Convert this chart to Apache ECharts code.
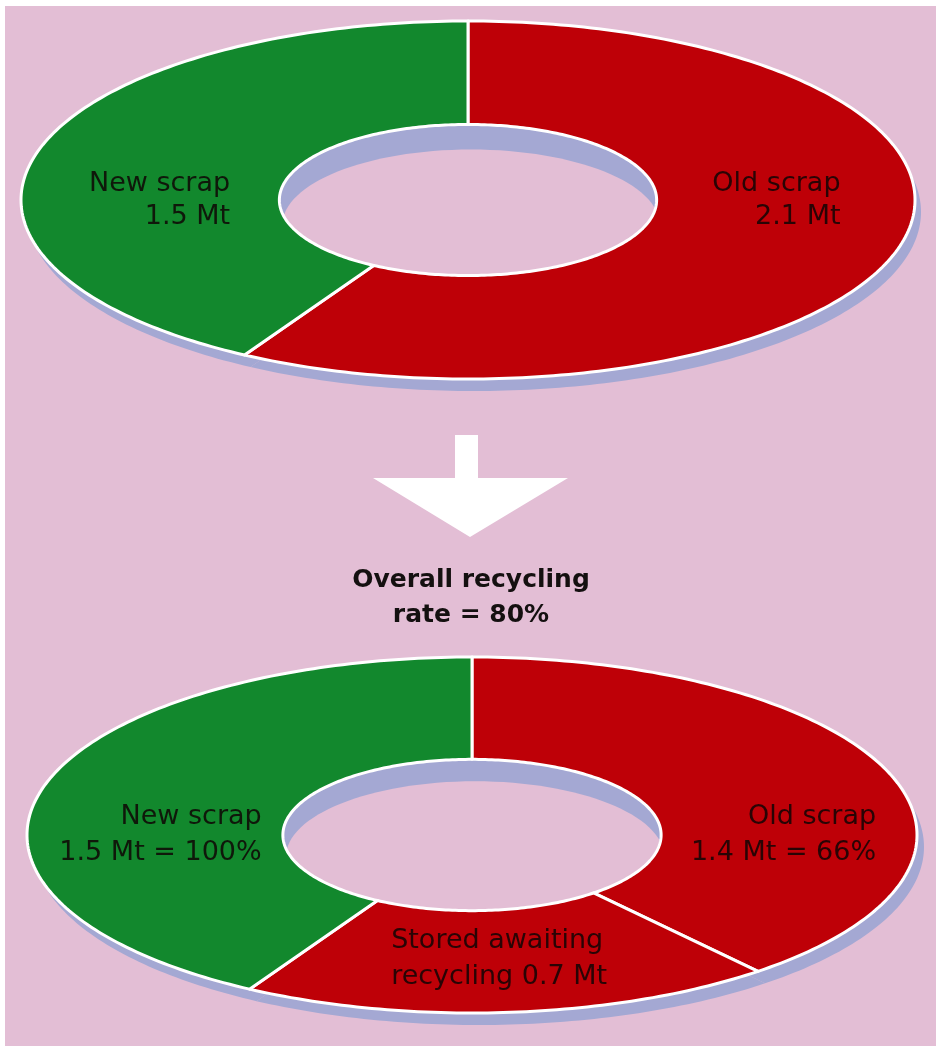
<!DOCTYPE html>
<html>
<head>
<meta charset="utf-8">
<script src="https://cdn.jsdelivr.net/npm/echarts@6/dist/echarts.min.js"></script>
<style>
  html, body { margin: 0; padding: 0; background: #ffffff; }
  #chart { width: 941px; height: 1052px; }
</style>
</head>
<body>
<div id="chart"></div>
<script>
// ---------------- DATA ----------------
const topCategories = ['Old scrap', 'New scrap'];
const topValues = [2.1, 1.5];                     // Mt
const topLabels = [['Old scrap', '2.1 Mt'], ['New scrap', '1.5 Mt']];

const bottomCategories = ['Old scrap', 'Stored awaiting recycling', 'New scrap'];
const bottomValues = [1.4, 0.7, 1.5];             // Mt
const bottomLabels = [['Old scrap', '1.4 Mt = 66%'], ['Stored awaiting', 'recycling 0.7 Mt'], ['New scrap', '1.5 Mt = 100%']];

const summaryLines = ['Overall recycling', 'rate = 80%'];

// ---------------- STYLE / LAYOUT ----------------
const PINK = '#E3BED5';
const LAV = '#A4A8D3';
const RED = '#BE0007';
const GREEN = '#12882D';
const categoryColors = { 'Old scrap': RED, 'New scrap': GREEN, 'Stored awaiting recycling': RED };
const FONT = 'DejaVu Sans';

const pieLayouts = [
  { cx: 468, cy: 200, rx: 447, ry: 179, inner: 0.422, shadowDx: 6, shadowDy: 12, floorDx: 3, floorDy: 25,
    labelR: 0.69, fontSize: 27, lineHeight: 33, lineAlign: ['right', 'right'] },
  { cx: 472, cy: 835, rx: 445, ry: 178, inner: 0.425, shadowDx: 7, shadowDy: 12, floorDx: 3, floorDy: 22,
    labelR: 0.70, fontSize: 27, lineHeight: 36, lineAlign: ['right', 'left', 'right'] }
];

const pies = [
  { cats: topCategories, vals: topValues, labels: topLabels, L: pieLayouts[0] },
  { cats: bottomCategories, vals: bottomValues, labels: bottomLabels, L: pieLayouts[1] }
];

// ---------------- GEOMETRY HELPERS ----------------
function sliceAngles(vals) {
  const tot = vals.reduce((a, b) => a + b, 0);
  let acc = 0;
  return vals.map(v => { const a0 = acc / tot * 2 * Math.PI; acc += v; return [a0, acc / tot * 2 * Math.PI]; });
}
function pt(L, t, k, dx, dy) {
  return [L.cx + (dx || 0) + L.rx * k * Math.sin(t), L.cy + (dy || 0) - L.ry * k * Math.cos(t)];
}
function ringPoints(L, a0, a1, dx, dy) {
  const n = Math.max(8, Math.ceil((a1 - a0) / (Math.PI / 180)));
  const pts = [];
  for (let i = 0; i <= n; i++) pts.push(pt(L, a0 + (a1 - a0) * i / n, 1, dx, dy));
  for (let i = n; i >= 0; i--) pts.push(pt(L, a0 + (a1 - a0) * i / n, L.inner, dx, dy));
  return pts;
}
function labelAngle(a0, a1) {
  for (const h of [Math.PI / 2, 3 * Math.PI / 2]) if (a0 <= h && h <= a1) return h;
  return (a0 + a1) / 2;
}

// ---------------- SERIES ----------------
const series = [];
const graphicEls = [
  { type: 'rect', shape: { x: 5, y: 6, width: 931, height: 1040 }, style: { fill: PINK }, z: 0, silent: true }
];

pies.forEach((p, pi) => {
  const L = p.L;
  const ang = sliceAngles(p.vals);
  const data = p.vals.map((v, i) => ({ name: p.cats[i], value: v }));

  // extruded base (shadow)
  series.push({
    type: 'custom', name: 'base' + pi, coordinateSystem: 'none', z: 1, silent: true,
    data: data,
    renderItem: function (params) {
      const i = params.dataIndex;
      return { type: 'polygon', shape: { points: ringPoints(L, ang[i][0], ang[i][1], L.shadowDx, L.shadowDy) },
               style: { fill: LAV } };
    }
  });

  // hole: inner wall + floor
  graphicEls.push({ type: 'ellipse', z: 2, silent: true,
    shape: { cx: L.cx, cy: L.cy, rx: L.rx * L.inner, ry: L.ry * L.inner }, style: { fill: LAV } });
  graphicEls.push({ type: 'ellipse', z: 2, silent: true,
    shape: { cx: L.cx + L.floorDx, cy: L.cy + L.floorDy, rx: L.rx * L.inner, ry: L.ry * L.inner }, style: { fill: PINK } });

  // coloured slices + labels
  series.push({
    type: 'custom', name: 'pie' + pi, coordinateSystem: 'none', z: 5, silent: true,
    data: data,
    renderItem: function (params) {
      const i = params.dataIndex;
      const a0 = ang[i][0], a1 = ang[i][1];
      const lp = pt(L, labelAngle(a0, a1), L.labelR);
      const key = L.lineAlign[i] === 'left' ? 'l' : 'r';
      const tokenStyle = { fontFamily: FONT, fontSize: L.fontSize, lineHeight: L.lineHeight, fill: 'rgba(15,5,5,0.85)' };
      return {
        type: 'group',
        children: [
          { type: 'polygon', shape: { points: ringPoints(L, a0, a1, 0, 0) },
            style: { fill: categoryColors[p.cats[i]], stroke: '#ffffff', lineWidth: 3, lineJoin: 'round' } },
          { type: 'text', x: lp[0], y: lp[1], z2: 10,
            style: {
              text: p.labels[i].map(s => '{' + key + '|' + s + '}').join('\n'),
              align: 'center', verticalAlign: 'middle',
              fontFamily: FONT, fontSize: L.fontSize, lineHeight: L.lineHeight, fill: 'rgba(15,5,5,0.85)',
              rich: { r: Object.assign({ align: 'right' }, tokenStyle), l: Object.assign({ align: 'left' }, tokenStyle) }
            } }
        ]
      };
    }
  });
});

// arrow
graphicEls.push({ type: 'polygon', z: 2, silent: true,
  shape: { points: [[455, 435], [478, 435], [478, 478], [568, 478], [470, 537], [373, 478], [455, 478]] },
  style: { fill: '#ffffff' } });

const option = {
  backgroundColor: '#ffffff',
  animation: false,
  title: {
    text: summaryLines.join('\n'),
    left: 466, top: 558, textAlign: 'center',
    textStyle: { fontFamily: FONT, fontWeight: 'bold', fontSize: 25, lineHeight: 35, color: '#141010' }
  },
  graphic: { elements: graphicEls },
  series: series
};

const chart = echarts.init(document.getElementById('chart'), null, { renderer: 'canvas' });
chart.setOption(option);
</script>
</body>
</html>
